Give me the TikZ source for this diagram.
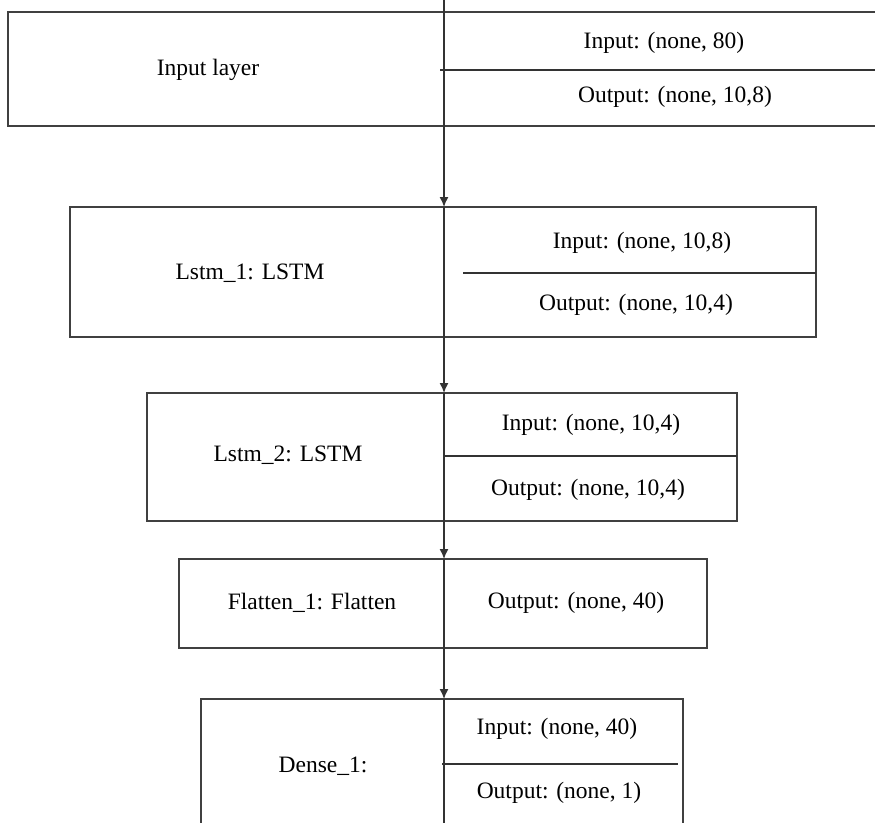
\documentclass[tikz,border=0pt]{standalone}
\usepackage{fontspec}
\setmainfont{Liberation Serif}
\usepackage{tikz}
\usetikzlibrary{arrows.meta,positioning}

\tikzset{
    layer/.style={draw=black!75, line width=1.4pt, rectangle, inner sep=0pt, outer sep=0pt},
    txt/.style={inner sep=0pt, font=\fontsize{23.5}{28}\selectfont},
    wire/.style={draw=black!80, line width=1.4pt},
    flow/.style={wire, -{Latex[length=10pt,width=9pt]}}
}

\begin{document}
\begin{tikzpicture}[x=1pt,y=-1pt]
    \useasboundingbox (0,0) rectangle (875,822);
    \clip (0,0) rectangle (875,822);
    \coordinate (axis) at (444,0);

    \node[layer, minimum width=882pt, minimum height=114pt] (inl) at (449,69) {};
    \node[layer, minimum width=746pt, minimum height=130pt] (lstmA) at (443,272) {};
    \node[layer, minimum width=590pt, minimum height=128pt] (lstmB) at (442,457) {};
    \node[layer, minimum width=528pt, minimum height=89pt] (flat) at (443,603.5) {};
    \node[layer, minimum width=482pt, minimum height=151pt] (dense) at (442,774.5) {};

    \node[txt] (inlname) at (208,70) {Input layer};
    \node[txt] (inlin) at (664,43) {Input: (none, 80)};
    \node[txt] (inlout) at (675,97) {Output: (none, 10,8)};

    \node[txt] (lstmAname) at (250,273) {Lstm\_1: LSTM};
    \node[txt] (lstmAin) at (642,243) {Input: (none, 10,8)};
    \node[txt] (lstmAout) at (636,305) {Output: (none, 10,4)};

    \node[txt] (lstmBname) at (288,455) {Lstm\_2: LSTM};
    \node[txt] (lstmBin) at (591,425) {Input: (none, 10,4)};
    \node[txt] (lstmBout) at (588,490) {Output: (none, 10,4)};

    \node[txt] (flatname) at (312,603) {Flatten\_1: Flatten};
    \node[txt] (flatout) at (576,603) {Output: (none, 40)};

    \node[txt] (densename) at (323,766) {Dense\_1:};
    \node[txt] (densein) at (557,729) {Input: (none, 40)};
    \node[txt] (denseout) at (559,793) {Output: (none, 1)};

    \draw[wire] (440,70) -- (inl.east |- 0,70);
    \draw[wire] (463,273) -- (lstmA.east |- 0,273);
    \draw[wire] (lstmB.north -| axis) ++(0,63) -- (lstmB.east |- 0,456);
    \draw[wire] (442,764) -- (678,764);

    \draw[wire] (axis) -- (inl.north -| axis);
    \foreach \n in {inl,lstmA,lstmB,flat,dense}
        \draw[wire] (\n.north -| axis) -- (\n.south -| axis);
    \foreach \a/\b in {inl/lstmA,lstmA/lstmB,lstmB/flat,flat/dense}
        \draw[flow] (\a.south -| axis) -- (\b.north -| axis);
\end{tikzpicture}
\end{document}
